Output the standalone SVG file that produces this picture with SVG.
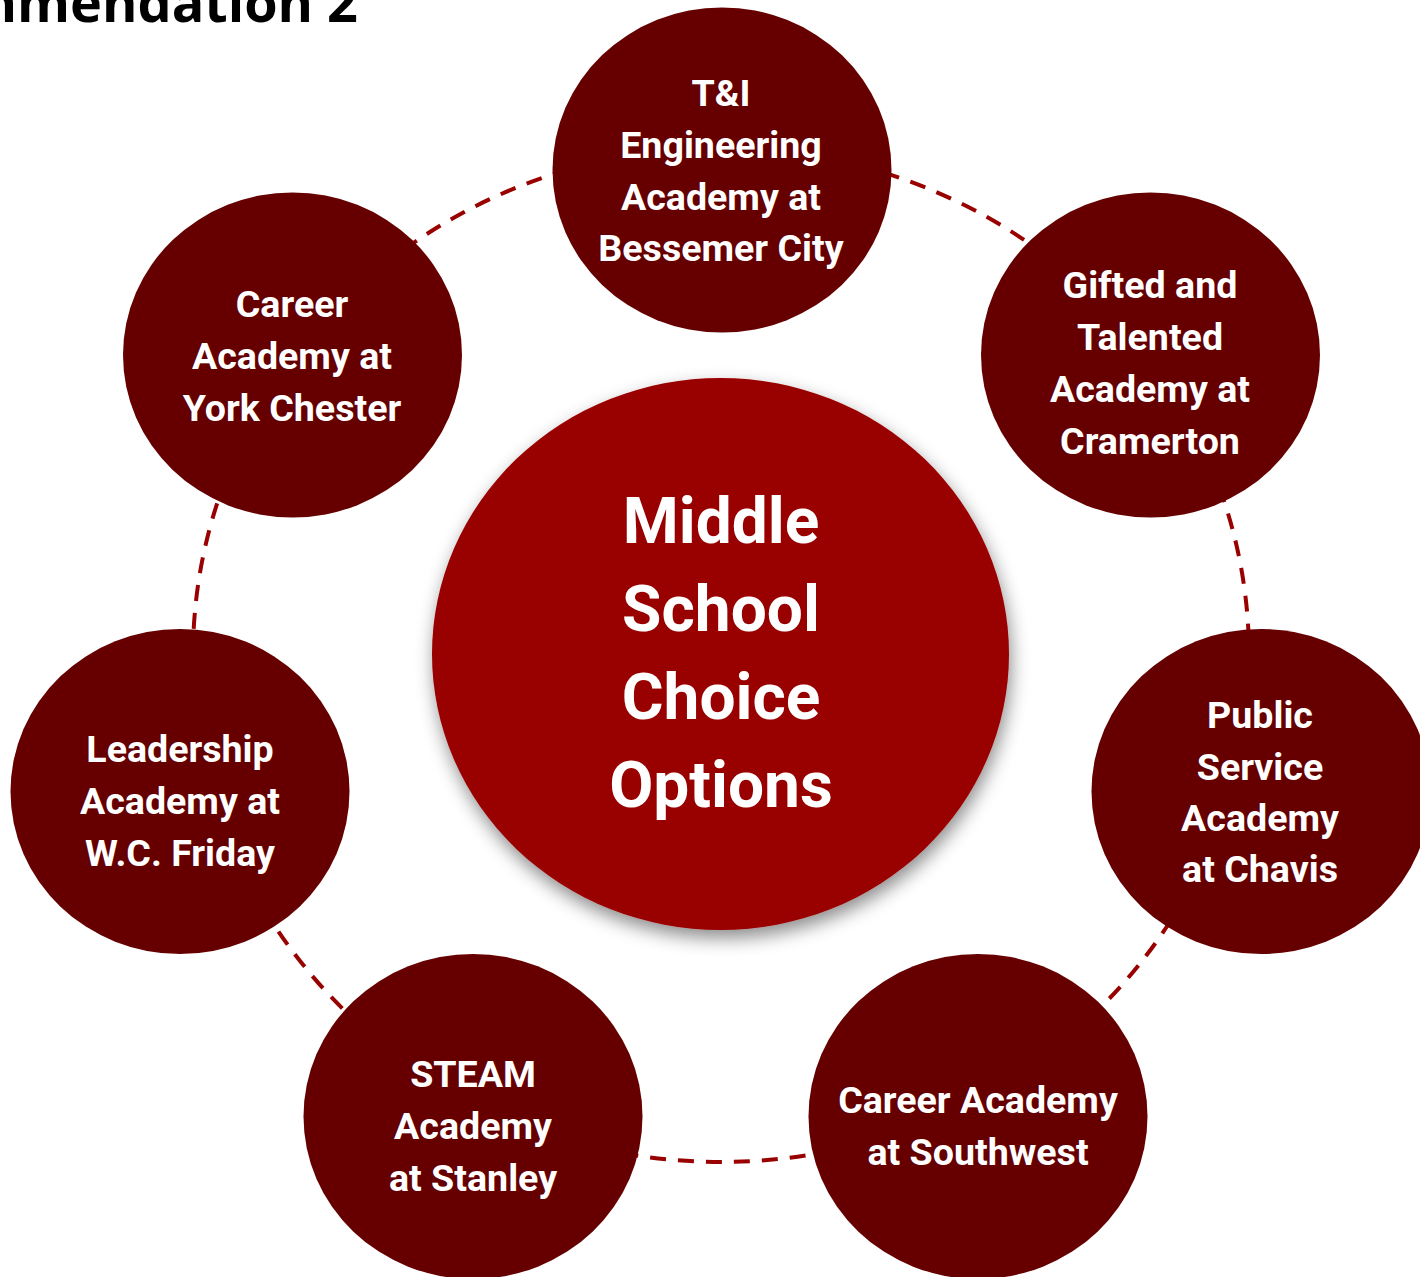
<svg xmlns="http://www.w3.org/2000/svg" width="1420" height="1277" viewBox="0 0 1420 1277">
<defs>
<style>
.node{fill:#660000}
.hub{fill:#990000}
.lbl{font-family:Roboto,"Liberation Sans",sans-serif;font-weight:bold;font-size:37.6px;fill:#ffffff;text-anchor:middle}
.hubl{font-family:Roboto,"Liberation Sans",sans-serif;font-weight:bold;font-size:64px;fill:#ffffff;text-anchor:middle}
.ring{fill:none;stroke:#990000;stroke-width:4;stroke-dasharray:16 12}
.title{font-family:"Open Sans","Liberation Sans",sans-serif;font-weight:bold;font-size:54px;fill:#000000;text-anchor:end}
</style>
<filter id="shadow" x="-20%" y="-20%" width="140%" height="140%">
<feDropShadow dx="2" dy="8" stdDeviation="9" flood-color="#000000" flood-opacity="0.45"/>
</filter>
</defs>
<rect width="1420" height="1277" fill="#ffffff"/>
<text class="title" x="358" y="22">Recommendation 2</text>
<g id="connectors">
<ellipse class="ring" cx="721" cy="655" rx="528" ry="507"/>
</g>
<g id="hub">
<ellipse class="hub" cx="720.5" cy="654" rx="288.5" ry="276" filter="url(#shadow)"/>
<text class="hubl" x="721" y="543">Middle</text>
<text class="hubl" x="721" y="631">School</text>
<text class="hubl" x="721" y="719">Choice</text>
<text class="hubl" x="721" y="807">Options</text>
</g>
<g id="node-ti">
<ellipse class="node" cx="722" cy="170" rx="169.5" ry="162.5"/>
<text class="lbl" x="721" y="106">T&amp;I</text>
<text class="lbl" x="721" y="158">Engineering</text>
<text class="lbl" x="721" y="210">Academy at</text>
<text class="lbl" x="721" y="261">Bessemer City</text>
</g>
<g id="node-gifted">
<ellipse class="node" cx="1150.5" cy="355" rx="169.5" ry="162.5"/>
<text class="lbl" x="1150" y="298">Gifted and</text>
<text class="lbl" x="1150" y="350">Talented</text>
<text class="lbl" x="1150" y="402">Academy at</text>
<text class="lbl" x="1150" y="454">Cramerton</text>
</g>
<g id="node-public">
<ellipse class="node" cx="1261" cy="791.5" rx="169.5" ry="162.5"/>
<text class="lbl" x="1260" y="728">Public</text>
<text class="lbl" x="1260" y="780">Service</text>
<text class="lbl" x="1260" y="831">Academy</text>
<text class="lbl" x="1260" y="882">at Chavis</text>
</g>
<g id="node-southwest">
<ellipse class="node" cx="978" cy="1116.5" rx="169.5" ry="162.5"/>
<text class="lbl" x="978" y="1113">Career Academy</text>
<text class="lbl" x="978" y="1165">at Southwest</text>
</g>
<g id="node-steam">
<ellipse class="node" cx="473" cy="1116.5" rx="169.5" ry="162.5"/>
<text class="lbl" x="473" y="1087">STEAM</text>
<text class="lbl" x="473" y="1139">Academy</text>
<text class="lbl" x="473" y="1191">at Stanley</text>
</g>
<g id="node-leadership">
<ellipse class="node" cx="180" cy="791.5" rx="169.5" ry="162.5"/>
<text class="lbl" x="180" y="762">Leadership</text>
<text class="lbl" x="180" y="814">Academy at</text>
<text class="lbl" x="180" y="866">W.C. Friday</text>
</g>
<g id="node-york">
<ellipse class="node" cx="292.5" cy="355" rx="169.5" ry="162.5"/>
<text class="lbl" x="292" y="317">Career</text>
<text class="lbl" x="292" y="369">Academy at</text>
<text class="lbl" x="292" y="421">York Chester</text>
</g>
</svg>
